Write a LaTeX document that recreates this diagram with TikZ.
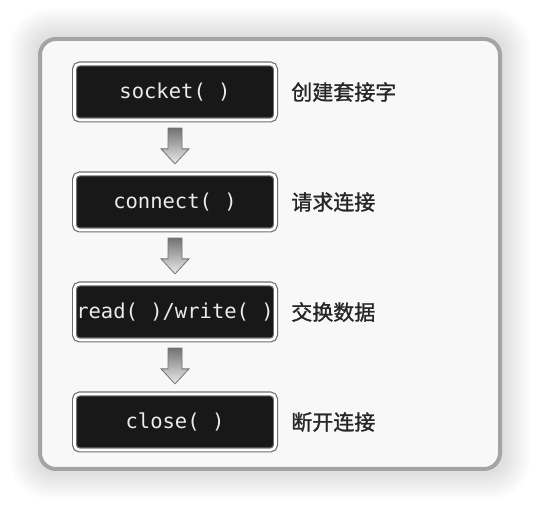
\documentclass[tikz,border=0pt]{standalone}
\usepackage{fontspec}
\setmonofont{DejaVu Sans Mono}
\newfontfamily\cjk[FakeBold=1.2]{Noto Sans CJK SC}
\usetikzlibrary{calc}
\definecolor{panelbg}{HTML}{F8F8F8}
\definecolor{panelrim}{HTML}{A4A4A4}
\definecolor{boxfill}{HTML}{181818}
\definecolor{boxrim}{HTML}{6E6E6E}
\tikzset{
  fnbox/.style={draw=boxrim, line width=1.2pt, double=white, double distance=2.6pt,
    fill=boxfill, rounded corners=5pt, minimum width=201pt, minimum height=56pt,
    text=white!92!black, font=\ttfamily\fontsize{20.5}{24}\selectfont, inner sep=0pt},
  lab/.style={anchor=west, font=\cjk\fontsize{21}{24}\selectfont, text=black!85, inner sep=0pt},
  blockarrow/.style={draw=black!55, line width=0.8pt, top color=black!55, bottom color=black!8, line join=miter},
}
\newcommand\flowarrow[2]{%
  \path let \p1=($(#1.south)+(0,-7.5)$), \p2=($(#2.north)+(0,9.5)$) in
    [blockarrow] (\x1-7pt,\y1) -- (\x1+7pt,\y1) -- (\x1+7pt,\y2+15pt) -- (\x1+14pt,\y2+15pt)
    -- (\x1,\y2) -- (\x1-14pt,\y2+15pt) -- (\x1-7pt,\y2+15pt) -- cycle;}
\begin{document}
\begin{tikzpicture}[x=1pt,y=1pt]
\useasboundingbox (0,0) rectangle (540,510);
\fill[white] (0,0) rectangle (540,510);
% soft shadow
\foreach \i in {16,15,...,1}{
  \fill[black, opacity=0.008, rounded corners={16pt+\i*1.6pt}]
    (38-\i*1.8, 39-\i*1.8) rectangle (502+\i*1.8, 473+\i*1.8);
}
% panel
\draw[panelrim, line width=4pt, fill=panelbg, rounded corners=16pt] (40,41) rectangle (500,471);
% boxes
\node[fnbox] (s)  at (175,418) {socket( )};
\node[fnbox] (c)  at (175,308) {connect( )};
\node[fnbox] (r)  at (175,198) {read( )/write( )};
\node[fnbox] (cl) at (175,88)  {close( )};
% labels
\node[lab] (ls)  at ($(s.east)+(15,0)$)  {创建套接字};
\node[lab] (lc)  at ($(c.east)+(15,0)$)  {请求连接};
\node[lab] (lr)  at ($(r.east)+(15,0)$)  {交换数据};
\node[lab] (lcl) at ($(cl.east)+(15,0)$) {断开连接};
% arrows
\flowarrow{s}{c}
\flowarrow{c}{r}
\flowarrow{r}{cl}
\end{tikzpicture}
\end{document}
